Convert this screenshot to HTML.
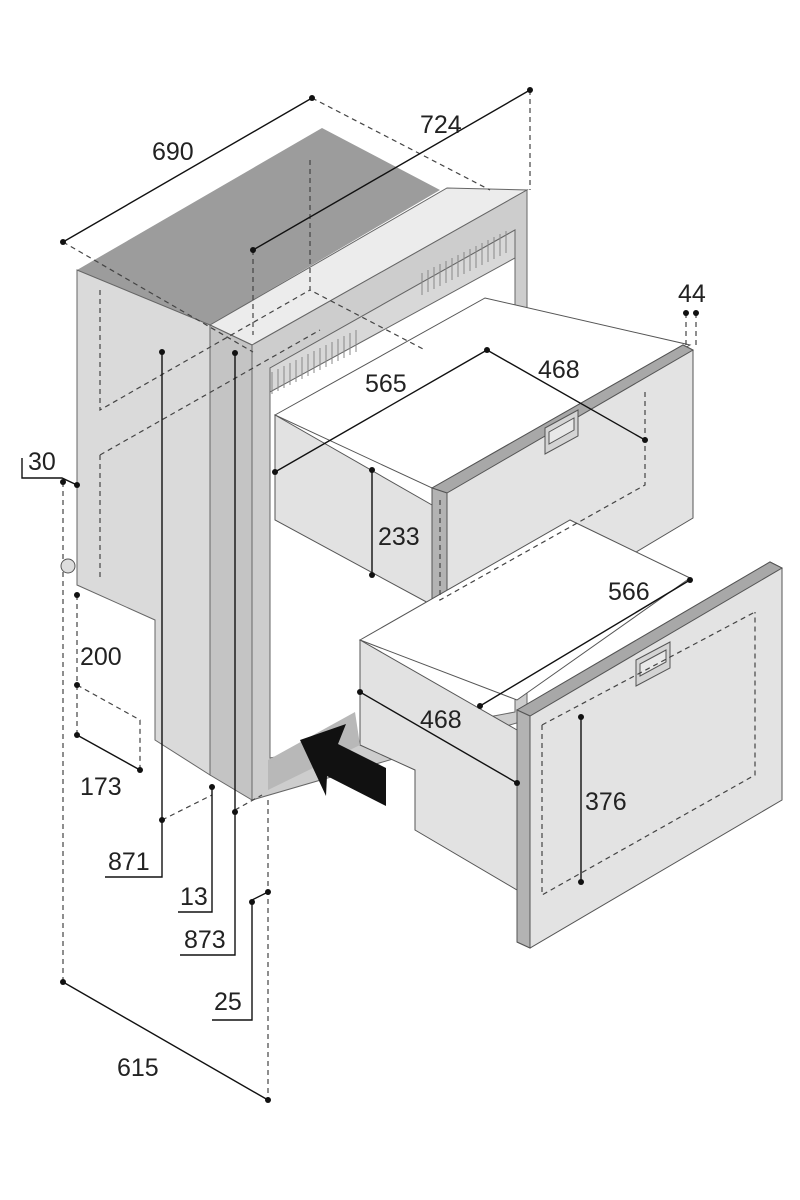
<!DOCTYPE html>
<html><head><meta charset="utf-8"><style>
html,body{margin:0;padding:0;background:#fff}
svg{display:block}
text{font-family:"Liberation Sans Narrow","Liberation Sans",sans-serif;font-size:25px;fill:#222}
</style></head><body>
<svg width="800" height="1200" viewBox="0 0 800 1200" xmlns="http://www.w3.org/2000/svg">
<g stroke="#666" stroke-width="1">
<polygon points="77,270 322,128 440,190 210,325" fill="#9c9c9c" stroke="none"/>
<polygon points="77,270 210,325 210,775 155,740 155,620 77,585" fill="#dadada"/>
<polygon points="210,325 447,188 527,190 252,345" fill="#ececec"/>
<polygon points="210,325 252,345 252,800 210,775" fill="#c4c4c4"/>
<polygon points="252,345 527,190 527,720 252,800" fill="#cdcdcd"/>
<polygon points="270,368 515,230 515,712 270,758" fill="#fff"/>
<polygon points="270,368 515,230 515,258 270,392" fill="#d8d8d8"/>
</g>
<g stroke="#888" stroke-width="1" fill="none">
<path d="M272,372 l0,22 M278,369 l0,22 M284,366 l0,22 M290,363 l0,22 M296,360 l0,22 M302,357 l0,22 M308,354 l0,22 M314,351 l0,22 M320,348 l0,22 M326,345 l0,22 M332,342 l0,22 M338,339 l0,22 M344,336 l0,22 M350,333 l0,22 M356,330 l0,22"/>
<path d="M422,273 l0,22 M428,270 l0,22 M434,267 l0,22 M440,264 l0,22 M446,261 l0,22 M452,258 l0,22 M458,255 l0,22 M464,252 l0,22 M470,249 l0,22 M476,246 l0,22 M482,243 l0,22 M488,240 l0,22 M494,237 l0,22 M500,234 l0,22 M506,231 l0,22"/>
</g>
<!-- top drawer -->
<g stroke="#555" stroke-width="1">
<polygon points="275,415 485,298 690,345 432,488" fill="#fff"/>
<polygon points="275,415 432,505 432,605 275,520" fill="#e2e2e2"/>
<polygon points="432,488 683,345 693,350 693,518 447,665 432,660" fill="#e3e3e3"/>
<polygon points="432,488 683,345 693,350 447,493" fill="#a8a8a8"/>
<polygon points="432,488 447,493 447,665 432,660" fill="#b3b3b3"/>
<polygon points="545,428 578,410 578,436 545,454" fill="#d4d4d4"/>
<polygon points="549,432 574,418 574,430 549,444" fill="#e8e8e8"/>
</g>
<!-- bottom drawer -->
<g stroke="#555" stroke-width="1">
<polygon points="360,640 570,520 690,578 517,700" fill="#fff"/>
<polygon points="360,640 517,730 517,890 415,830 415,770 360,745" fill="#e2e2e2"/>
<polygon points="517,710 770,562 782,568 782,800 530,948 517,942" fill="#e3e3e3"/>
<polygon points="517,710 770,562 782,568 530,716" fill="#a8a8a8"/>
<polygon points="517,710 530,716 530,948 517,942" fill="#b3b3b3"/>
<polygon points="636,660 670,642 670,668 636,686" fill="#d4d4d4"/>
<polygon points="640,664 666,650 666,662 640,676" fill="#e8e8e8"/>
<polygon points="268,760 355,712 360,745 268,790" fill="#b8b8b8" stroke="none"/>
</g>
<polygon points="300,740 346,724 338,744 386,768 386,806 327,776 326,796" fill="#111"/>
<g stroke="#444" stroke-width="1.2" stroke-dasharray="5,4" fill="none">
<path d="M63,242 L253,352 M312,98 L490,190 M530,90 L530,190 M253,250 L253,335"/>
<path d="M100,290 L100,410 L310,290 M310,160 L310,290 L425,350 M100,455 L100,580 M100,455 L320,330"/>
<path d="M63,482 L63,982 M268,800 L268,1100 M77,595 L77,735 M77,685 L140,720 L140,770"/>
<path d="M686,313 L686,345 M696,313 L696,345"/>
<path d="M162,820 L212,795 M235,810 L262,795"/>
<path d="M542,725 L542,895 L755,775 L755,612 M542,725 L755,612"/>
<path d="M440,500 L440,600 L645,485 L645,390"/>
</g>
<g stroke="#111" stroke-width="1.4" fill="none">
<path d="M63,242 L312,98 M253,250 L530,90 M275,472 L487,350 M487,350 L645,440 M372,470 L372,575 M480,706 L690,580 M360,692 L517,783 M581,717 L581,882"/>
<path d="M22,458 L22,478 L62,478 L77,485 M63,982 L268,1100 M77,735 L140,770"/>
<path d="M162,352 L162,877 L105,877 M212,785 L212,912 L178,912 M235,353 L235,955 L180,955 M252,900 L252,1020 L212,1020 M252,900 L268,892"/>
</g>
<g fill="#111">
<circle cx="63" cy="242" r="3"/><circle cx="312" cy="98" r="3"/><circle cx="253" cy="250" r="3"/><circle cx="530" cy="90" r="3"/>
<circle cx="275" cy="472" r="3"/><circle cx="487" cy="350" r="3"/><circle cx="645" cy="440" r="3"/><circle cx="372" cy="470" r="3"/><circle cx="372" cy="575" r="3"/>
<circle cx="480" cy="706" r="3"/><circle cx="690" cy="580" r="3"/><circle cx="360" cy="692" r="3"/><circle cx="517" cy="783" r="3"/><circle cx="581" cy="717" r="3"/><circle cx="581" cy="882" r="3"/>
<circle cx="686" cy="313" r="3"/><circle cx="696" cy="313" r="3"/><circle cx="63" cy="482" r="3"/><circle cx="77" cy="485" r="3"/>
<circle cx="77" cy="595" r="3"/><circle cx="77" cy="685" r="3"/><circle cx="77" cy="735" r="3"/><circle cx="140" cy="770" r="3"/>
<circle cx="162" cy="352" r="3"/><circle cx="162" cy="820" r="3"/><circle cx="235" cy="353" r="3"/><circle cx="235" cy="812" r="3"/>
<circle cx="212" cy="787" r="3"/><circle cx="252" cy="902" r="3"/><circle cx="268" cy="892" r="3"/><circle cx="63" cy="982" r="3"/><circle cx="268" cy="1100" r="3"/>
</g>
<circle cx="68" cy="566" r="7" fill="#ddd" stroke="#555"/>
<g>
<text x="152" y="160">690</text><text x="420" y="133">724</text><text x="678" y="302">44</text>
<text x="365" y="392">565</text><text x="538" y="378">468</text><text x="378" y="545">233</text>
<text x="608" y="600">566</text><text x="420" y="728">468</text><text x="585" y="810">376</text>
<text x="28" y="470">30</text><text x="80" y="665">200</text><text x="80" y="795">173</text>
<text x="108" y="870">871</text><text x="180" y="905">13</text><text x="184" y="948">873</text>
<text x="214" y="1010">25</text><text x="117" y="1076">615</text>
</g>
</svg>
</body></html>
